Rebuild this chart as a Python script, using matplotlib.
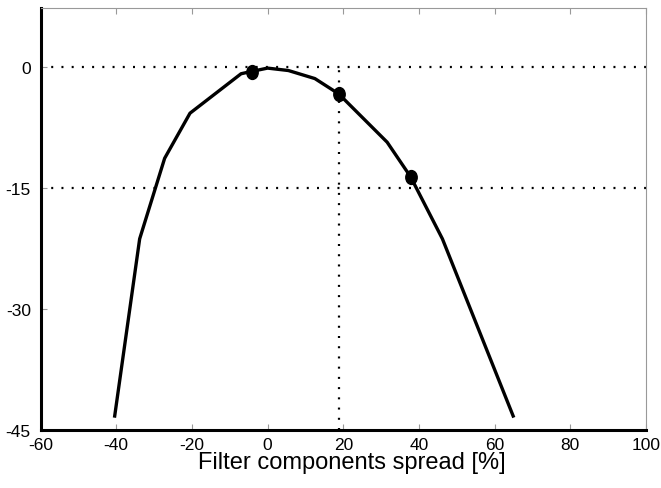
import matplotlib
matplotlib.use("Agg")
import matplotlib.pyplot as plt
from matplotlib.path import Path
from matplotlib.transforms import Affine2D

# Attenuation curve vs. spread of the filter components
spread = [-40.4, -33.8, -27.2, -20.5, -7.0, -4.1, 0.0, 5.5, 12.5, 18.8, 31.6, 37.8, 46.2, 64.9]
level = [-43.3, -21.3, -11.3, -5.7, -0.8, -0.5, -0.1, -0.4, -1.4, -3.3, -9.3, -13.6, -21.3, -43.3]

# Highlighted points on the curve
mark_x = [-4.1, 18.8, 37.8]
mark_y = [-0.6, -3.3, -13.6]

# Reference guide levels
h_levels = [0, -15]
v_guide_x = 18.8

x_ticks = [-60, -40, -20, 0, 20, 40, 60, 80, 100]
y_ticks = [0, -15, -30, -45]

plt.rcParams['font.family'] = ['Liberation Sans', 'DejaVu Sans']

fig = plt.figure(figsize=(6.61, 4.89), dpi=100)
ax = fig.add_axes([0.0613, 0.1192, 0.9160, 0.8630])

dots = (0, (0.9, 3.7))
for lv in h_levels:
    ax.axhline(lv, color='black', lw=1.6, linestyle=dots, dash_capstyle='butt', zorder=2)
ax.plot([v_guide_x, v_guide_x], [-45, 0], color='black', lw=1.6, linestyle=dots,
        dash_capstyle='butt', zorder=2)

ax.plot(spread, level, color='black', lw=2.4, solid_joinstyle='round', zorder=3)

# slightly upright oval marker
oval = Affine2D().scale(0.82, 1.0).transform_path(Path.unit_circle())
ax.plot(mark_x, mark_y, linestyle='none', marker=oval, color='black', markersize=10,
        zorder=4)

ax.set_xlim(-60, 100)
ax.set_ylim(-45, 7.4)
ax.set_xticks(x_ticks)
ax.set_yticks(y_ticks)
ax.set_xticklabels([str(t) for t in x_ticks])
ax.set_yticklabels([str(t) for t in y_ticks])

ax.tick_params(axis='both', direction='in', length=4, width=0.8, color='#999999',
               labelsize=12.5, top=True, right=False)
ax.tick_params(axis='x', pad=5)
ax.tick_params(axis='y', pad=7)

for side in ('left', 'bottom'):
    ax.spines[side].set_linewidth(2.2)
    ax.spines[side].set_color('black')
for side in ('top', 'right'):
    ax.spines[side].set_linewidth(0.8)
    ax.spines[side].set_color('#999999')

ax.set_xlabel('Filter components spread [%]', fontsize=17)
ax.xaxis.set_label_coords(0.514, -0.0915)
ax.xaxis.label.set_verticalalignment('baseline')

fig.savefig('out.png', dpi=100)
